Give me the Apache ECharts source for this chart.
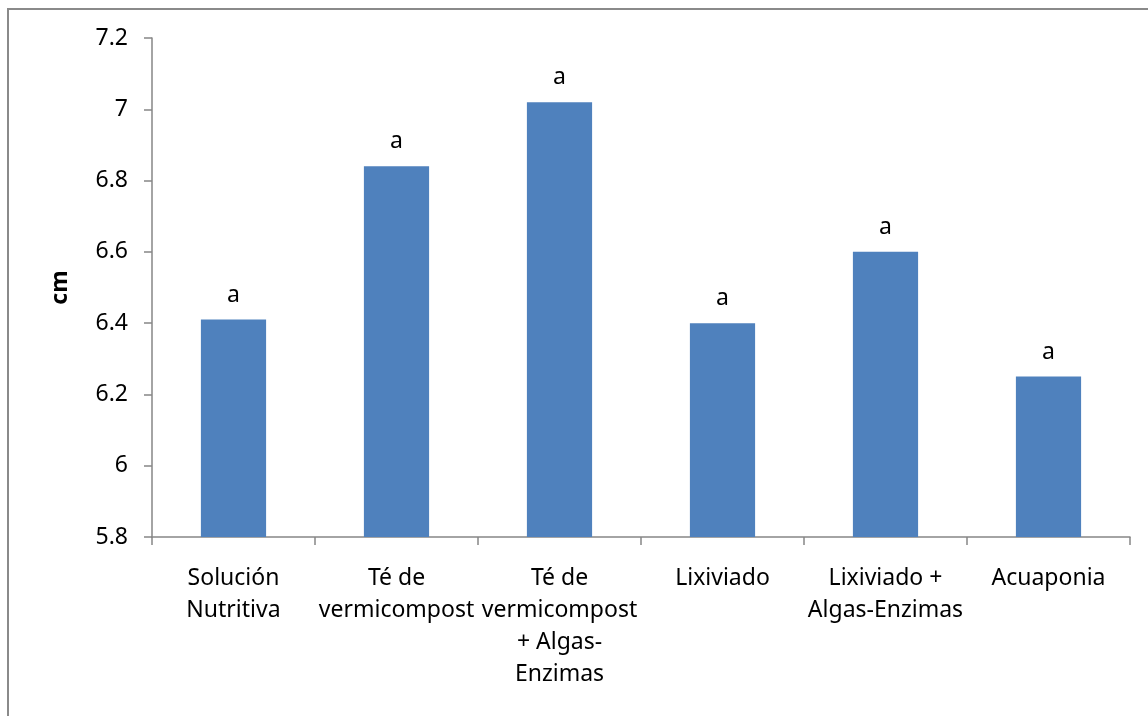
<!DOCTYPE html>
<html>
<head>
<meta charset="utf-8">
<script src="https://cdn.jsdelivr.net/npm/echarts@6/dist/echarts.min.js"></script>
<style>html,body{margin:0;padding:0;background:#fff;}#c{width:1148px;height:716px;}</style>
</head>
<body>
<div id="c"></div>
<script>
const categories = ["Solución\nNutritiva", "Té de\nvermicompost", "Té de\nvermicompost\n+ Algas-\nEnzimas", "Lixiviado", "Lixiviado +\nAlgas-Enzimas", "Acuaponia"];
const values = [6.41, 6.84, 7.02, 6.40, 6.60, 6.25];
const letters = ["a", "a", "a", "a", "a", "a"];
const yName = "cm";

const FONT = "Noto Sans";
const FS = 23;
const chart = echarts.init(document.getElementById('c'));
chart.setOption({
  animation: false,
  graphic: [{
    type: 'rect', shape: {x: 8, y: 9, width: 1300, height: 900},
    style: {fill: 'none', stroke: '#8a8a8a', lineWidth: 2}, silent: true
  }],
  grid: {left: 152, right: 18, top: 38, bottom: 179},
  xAxis: {
    type: 'category', data: categories,
    axisLine: {lineStyle: {color: '#868686', width: 1.5}},
    axisTick: {show: true, alignWithLabel: false, length: 8, lineStyle: {color: '#868686', width: 1.5}},
    axisLabel: {color: '#000', fontFamily: FONT, fontSize: FS, lineHeight: 32, margin: 25, interval: 0}
  },
  yAxis: {
    type: 'value', min: 5.8, max: 7.2, interval: 0.2,
    name: yName, nameLocation: 'middle', nameGap: 80, nameRotate: 90,
    nameTextStyle: {color: '#000', fontFamily: FONT, fontSize: FS, fontWeight: 'bold'},
    axisLine: {show: true, lineStyle: {color: '#868686', width: 1.5}},
    axisTick: {show: true, length: 8, lineStyle: {color: '#868686', width: 1.5}},
    splitLine: {show: false},
    axisLabel: {color: '#000', fontFamily: FONT, fontSize: FS, margin: 24,
      formatter: v => String(Math.round(v * 10) / 10)}
  },
  series: [{
    type: 'bar', barWidth: '40%',
    data: values.map((v, i) => ({value: v, label: {formatter: letters[i]}})),
    itemStyle: {color: '#4F81BD'},
    label: {show: true, position: 'top', distance: 13, color: '#000', fontFamily: FONT, fontSize: FS}
  }]
});
</script>
</body>
</html>
